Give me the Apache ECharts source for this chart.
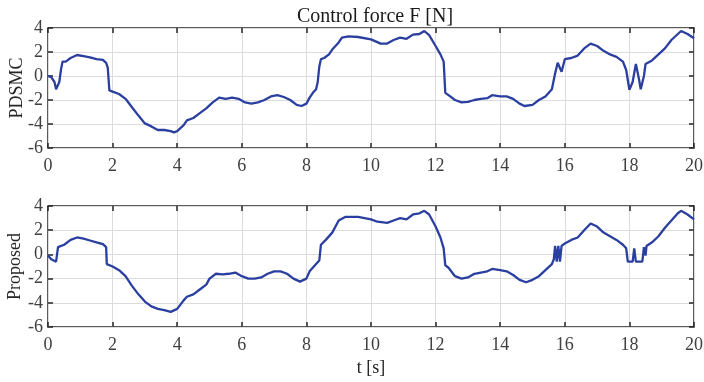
<!DOCTYPE html>
<html><head><meta charset="utf-8">
<script src="https://cdn.jsdelivr.net/npm/echarts@6/dist/echarts.min.js"></script>
<style>html,body{margin:0;padding:0;background:#fff}#c{width:704px;height:382px}</style>
</head><body><div id="c"></div>
<script>
var titleText = "Control force F [N]";
var xName = "t [s]";
var yNames = ["PDSMC", "Proposed"];
var xTicks = [0, 2, 4, 6, 8, 10, 12, 14, 16, 18, 20];
var yTicks = [-6, -4, -2, 0, 2, 4];

var tTop = [0,0.1,0.2,0.25,0.3,0.35,0.4,0.45,0.55,0.7,0.9,1.1,1.3,1.5,1.7,1.8,1.85,1.9,2.0,2.2,2.4,2.6,2.8,3.0,3.2,3.4,3.6,3.8,3.9,4.0,4.2,4.3,4.5,4.7,4.9,5.1,5.3,5.5,5.7,5.9,6.1,6.3,6.5,6.7,6.9,7.1,7.3,7.5,7.7,7.85,8.0,8.1,8.2,8.3,8.35,8.4,8.45,8.55,8.7,8.8,9.0,9.1,9.3,9.6,10.0,10.3,10.5,10.7,10.9,11.1,11.3,11.5,11.65,11.8,12.0,12.15,12.25,12.3,12.4,12.6,12.8,13.0,13.2,13.4,13.6,13.75,14.0,14.2,14.4,14.6,14.75,15.0,15.2,15.4,15.6,15.7,15.78,15.9,16.0,16.2,16.4,16.6,16.8,17.0,17.2,17.4,17.6,17.8,17.9,18.0,18.1,18.2,18.3,18.35,18.45,18.5,18.7,18.9,19.1,19.3,19.5,19.6,19.8,20];
var fTop = [0,-0.1,-0.5,-1.1,-1.0,-0.5,0.5,1.2,1.2,1.5,1.75,1.65,1.55,1.4,1.35,1.1,0.7,-1.2,-1.3,-1.5,-1.9,-2.6,-3.3,-3.95,-4.2,-4.5,-4.5,-4.6,-4.7,-4.6,-4.1,-3.7,-3.5,-3.1,-2.7,-2.2,-1.8,-1.9,-1.8,-1.9,-2.2,-2.3,-2.2,-2.0,-1.7,-1.6,-1.75,-2.0,-2.4,-2.5,-2.3,-1.8,-1.4,-1.1,-0.5,0.8,1.4,1.5,1.8,2.2,2.8,3.2,3.3,3.25,3.05,2.7,2.7,3.0,3.2,3.1,3.45,3.5,3.75,3.4,2.5,1.8,1.2,-1.4,-1.6,-2.0,-2.2,-2.15,-2.0,-1.9,-1.85,-1.6,-1.7,-1.7,-1.9,-2.3,-2.5,-2.4,-2.0,-1.7,-1.1,0.2,1.1,0.35,1.4,1.5,1.7,2.3,2.7,2.5,2.1,1.8,1.6,1.2,0.5,-1.15,-0.5,1.0,-0.3,-1.1,0.0,1.0,1.3,1.8,2.3,3.0,3.5,3.75,3.5,3.15];

var tBot = [0,0.1,0.25,0.3,0.31,0.5,0.7,0.9,1.1,1.3,1.5,1.7,1.8,1.82,1.85,2.0,2.2,2.4,2.6,2.8,3.0,3.2,3.4,3.6,3.8,4.0,4.2,4.3,4.5,4.7,4.9,5.0,5.2,5.4,5.6,5.8,6.0,6.2,6.4,6.6,6.8,7.0,7.2,7.4,7.6,7.8,8.0,8.1,8.3,8.4,8.45,8.6,8.8,9.0,9.2,9.6,10.0,10.2,10.5,10.7,10.9,11.1,11.3,11.5,11.65,11.8,12.0,12.15,12.25,12.3,12.4,12.6,12.8,13.0,13.2,13.4,13.6,13.75,14.0,14.2,14.4,14.6,14.8,15.0,15.2,15.4,15.6,15.66,15.7,15.75,15.8,15.85,15.9,16.0,16.2,16.4,16.6,16.8,17.0,17.2,17.4,17.6,17.8,17.9,17.95,18.1,18.15,18.2,18.4,18.45,18.5,18.53,18.7,18.9,19.1,19.3,19.5,19.6,19.8,20];
var fBot = [-0.1,-0.4,-0.6,-0.6,0.6,0.8,1.2,1.4,1.3,1.15,1.0,0.85,0.6,-0.8,-0.85,-1.0,-1.3,-1.8,-2.6,-3.3,-3.9,-4.3,-4.5,-4.6,-4.75,-4.5,-3.8,-3.5,-3.3,-2.9,-2.5,-2.0,-1.6,-1.65,-1.6,-1.5,-1.8,-2.0,-2.0,-1.9,-1.6,-1.4,-1.4,-1.6,-2.0,-2.25,-2.0,-1.4,-0.8,-0.5,0.8,1.2,1.8,2.8,3.1,3.1,2.9,2.7,2.6,2.8,3.0,2.9,3.3,3.4,3.6,3.3,2.3,1.4,0.5,-0.9,-1.1,-1.8,-2.0,-1.9,-1.6,-1.5,-1.4,-1.2,-1.3,-1.4,-1.7,-2.1,-2.3,-2.1,-1.8,-1.3,-0.8,-0.4,0.7,-0.6,0.7,-0.6,0.7,0.9,1.2,1.4,2.0,2.55,2.3,1.8,1.5,1.2,0.8,0.5,-0.6,-0.6,0.5,-0.6,-0.6,0.6,-0.1,0.7,1.0,1.5,2.2,2.8,3.4,3.6,3.3,2.9];

function pairs(t, v) { return t.map(function (x, i) { return [x, v[i]]; }); }

var FONT = "Liberation Serif";
var lineColor = "#2b3fa0";
var grids = [
  {left: 48, right: 10, top: 28, height: 120},
  {left: 48, right: 10, top: 206, height: 121}
];
var nameGaps = [22, 24];
var tickStyle = {show: true, inside: true, length: 5, lineStyle: {color: "#262626", width: 1.5}};
var xAxes = [], yAxes = [], series = [];
grids.forEach(function (g, i) {
  g.show = true; g.borderColor = "#262626"; g.borderWidth = 1.5; g.backgroundColor = "#fff";
  g.containLabel = false; g.outerBoundsMode = "none";
  xAxes.push({type: "value", gridIndex: i, min: 0, max: 20, interval: 2, position: "bottom",
    axisLine: {show: false, onZero: false}, axisTick: tickStyle,
    splitLine: {show: true, lineStyle: {color: "#dcdcdc", width: 1}},
    axisLabel: {fontFamily: FONT, fontSize: 18, color: "#404040", margin: 9},
    name: i === 1 ? xName : "", nameLocation: "middle", nameGap: 32, nameMoveOverlap: false,
    nameTextStyle: {fontFamily: FONT, fontSize: 18, color: "#262626"}});
  xAxes.push({type: "value", gridIndex: i, min: 0, max: 20, interval: 2, position: "top",
    axisLine: {show: false, onZero: false}, axisTick: tickStyle,
    splitLine: {show: false}, axisLabel: {show: false}});
  yAxes.push({type: "value", gridIndex: i, min: -6, max: 4, interval: 2, position: "left",
    axisLine: {show: false, onZero: false}, axisTick: tickStyle,
    splitLine: {show: true, lineStyle: {color: "#dcdcdc", width: 1}},
    axisLabel: {fontFamily: FONT, fontSize: 18, color: "#404040", margin: 5},
    name: yNames[i], nameLocation: "middle", nameGap: nameGaps[i], nameMoveOverlap: false,
    nameTextStyle: {fontFamily: FONT, fontSize: 18, color: "#262626"}});
  yAxes.push({type: "value", gridIndex: i, min: -6, max: 4, interval: 2, position: "right",
    axisLine: {show: false, onZero: false}, axisTick: tickStyle,
    splitLine: {show: false}, axisLabel: {show: false}});
});
series.push({type: "line", xAxisIndex: 0, yAxisIndex: 0, data: pairs(tTop, fTop), showSymbol: false,
  lineStyle: {color: lineColor, width: 2.3}, animation: false, z: 5});
series.push({type: "line", xAxisIndex: 2, yAxisIndex: 2, data: pairs(tBot, fBot), showSymbol: false,
  lineStyle: {color: lineColor, width: 2.3}, animation: false, z: 5});

var chart = echarts.init(document.getElementById("c"), null, {renderer: "canvas"});
chart.setOption({
  animation: false,
  title: {text: titleText, left: 370, top: 2, textAlign: "center",
    textStyle: {fontFamily: FONT, fontSize: 20, fontWeight: "normal", color: "#1a1a1a"}},
  grid: grids, xAxis: xAxes, yAxis: yAxes, series: series
});
</script></body></html>
